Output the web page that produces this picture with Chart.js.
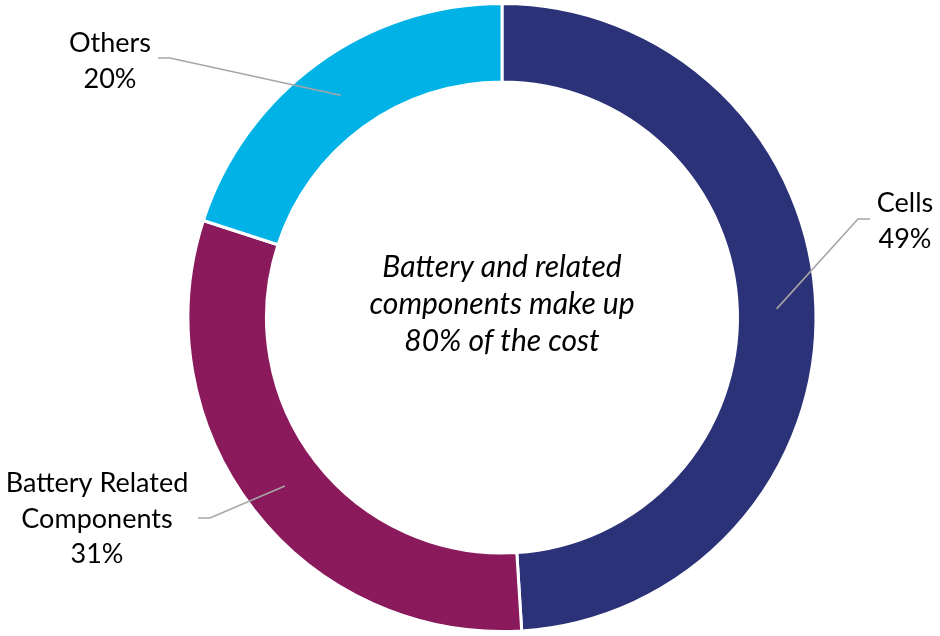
<!DOCTYPE html>
<html>
<head>
<meta charset="utf-8">
<script src="https://cdn.jsdelivr.net/npm/chart.js@4"></script>
<style>
	html, body { margin: 0; padding: 0; background: #fff; }
	#wrap { width: 940px; height: 636px; }
</style>
</head>
<body>
<div id="wrap"><canvas id="chart" width="940" height="636"></canvas></div>
<script>
const categories = ['Cells', 'Battery Related Components', 'Others'];
const shares = [49, 31, 20];
const labelLines = [['Cells'], ['Battery Related', 'Components'], ['Others']];
const centerLines = ['Battery and related', 'components make up', '80% of the cost'];
const colors = ['#2b3277', '#8a1a5c', '#00b2e6'];

const FONT = 'Lato, "Open Sans", sans-serif';

// callout text anchors (first baseline) and the elbow of each leader line
const callouts = [
	{ x: 905, y: 212, elbow: [[870, 219], [858, 219]] },
	{ x: 97, y: 492, elbow: [[198, 518], [210, 518]] },
	{ x: 110, y: 52, elbow: [[158, 58], [170, 58]] },
];

const calloutPlugin = {
	id: 'callouts',
	afterDatasetsDraw(chart) {
		const ctx = chart.ctx;
		const meta = chart.getDatasetMeta(0);
		ctx.save();

		meta.data.forEach((arc, i) => {
			const c = callouts[i];
			const props = arc.getProps(['x', 'y', 'startAngle', 'endAngle', 'innerRadius', 'outerRadius'], true);
			const mid = (props.startAngle + props.endAngle) / 2;
			const r = (props.innerRadius + props.outerRadius) / 2;
			const px = props.x + Math.cos(mid) * r;
			const py = props.y + Math.sin(mid) * r;

			ctx.strokeStyle = '#a6a6a6';
			ctx.lineWidth = 1.6;
			ctx.beginPath();
			ctx.moveTo(c.elbow[0][0], c.elbow[0][1]);
			ctx.lineTo(c.elbow[1][0], c.elbow[1][1]);
			ctx.lineTo(px, py);
			ctx.stroke();

			const lines = labelLines[i].concat([shares[i] + '%']);
			ctx.fillStyle = '#000';
			ctx.font = '27px ' + FONT;
			ctx.textAlign = 'center';
			ctx.textBaseline = 'alphabetic';
			lines.forEach((t, k) => ctx.fillText(t, c.x, c.y + k * 35.5));
		});

		// note in the hole
		const cx = meta.data[0].x;
		const cy = meta.data[0].y;
		ctx.font = 'italic 30px ' + FONT;
		centerLines.forEach((t, k) => ctx.fillText(t, cx, cy - 40.5 + k * 37));

		ctx.restore();
	},
};

new Chart(document.getElementById('chart'), {
	type: 'doughnut',
	data: {
		labels: categories,
		datasets: [{
			data: shares,
			backgroundColor: colors,
			borderColor: '#ffffff',
			borderWidth: 3,
		}],
	},
	options: {
		responsive: false,
		animation: false,
		cutout: '75%',
		layout: { padding: { top: 2, bottom: 3, left: 125, right: 61 } },
		plugins: {
			legend: { display: false },
			tooltip: { enabled: false },
		},
	},
	plugins: [calloutPlugin],
});
</script>
</body>
</html>
